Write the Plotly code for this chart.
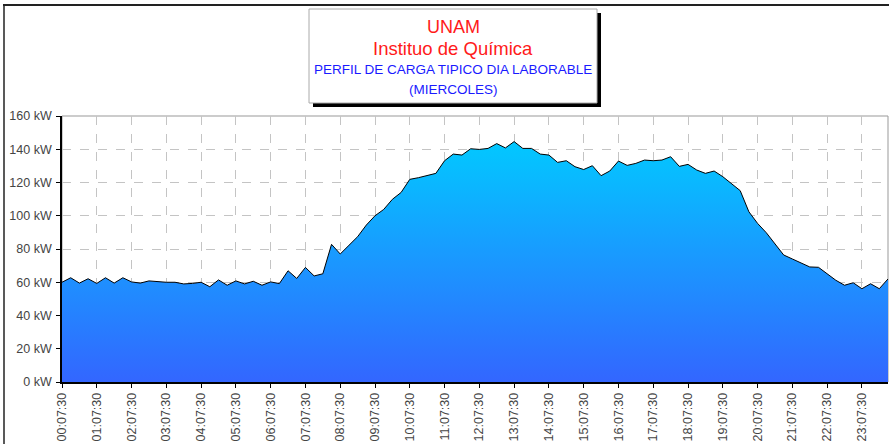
import plotly.graph_objects as go

# ---- data ----
times = [f"{h:02d}:{m:02d}:30" for h in range(24) for m in (7, 22, 37, 52)]
load_kw = [
    60.0, 62.7, 59.5, 62.1, 59.3, 62.7, 59.5, 62.7, 60.2, 59.5, 60.8, 60.2,
    60.0, 60.0, 59.0, 59.3, 60.0, 57.3, 61.4, 58.2, 60.8, 59.0, 60.6, 58.2,
    60.2, 59.2, 66.9, 62.3, 68.9, 63.8, 65.1, 82.8, 77.0, 82.2, 87.4, 94.4,
    100.0, 103.8, 109.9, 114.0, 121.9, 122.9, 124.3, 125.5, 133.1, 137.1, 136.5, 140.3,
    139.9, 140.5, 143.4, 140.8, 144.6, 140.5, 140.5, 137.1, 136.5, 132.1, 133.1, 129.5,
    127.8, 130.1, 124.1, 126.9, 132.9, 130.3, 131.5, 133.5, 133.1, 133.5, 135.5, 129.7,
    130.9, 127.5, 125.5, 126.9, 123.5, 119.5, 115.1, 102.4, 95.4, 89.8, 83.0, 76.4,
    74.0, 71.4, 69.2, 69.0, 65.0, 61.2, 58.2, 59.7, 56.1, 59.1, 56.1, 62.0,
]
tick_labels = times[::4]
y_ticks = [0, 20, 40, 60, 80, 100, 120, 140, 160]
y_tick_text = [f"{v} kW" for v in y_ticks]
title_lines = ["UNAM", "Instituo de Química", "PERFIL DE CARGA TIPICO DIA LABORABLE", "(MIERCOLES)"]

# ---- layout geometry (pixels) ----
W, H = 889, 444
L, R, T, B = 62, 888, 116, 382
pw, ph = R - L, B - T

def px(x):
    return (x - L) / pw

def py(y):
    return (B - y) / ph

fig = go.Figure()
fig.add_trace(go.Scatter(
    x=times, y=load_kw, mode="lines", fill="tozeroy",
    line=dict(color="black", width=1),
    fillgradient=dict(type="vertical", start=0, stop=150,
                      colorscale=[[0, "#3366FF"], [1, "#00CCFF"]]),
    hoverinfo="skip", showlegend=False,
))

shapes = [
    # plot-area border (grey)
    dict(type="rect", xref="paper", yref="paper", x0=0, x1=1, y0=0, y1=1,
         line=dict(color="#999999", width=1), layer="below"),
    # outer chart frame
    dict(type="line", xref="paper", yref="paper", x0=px(3), x1=px(900), y0=py(5), y1=py(5),
         line=dict(color="#222222", width=2)),
    dict(type="line", xref="paper", yref="paper", x0=px(4), x1=px(4), y0=py(5), y1=py(460),
         line=dict(color="#222222", width=1.5)),
    # title box shadow + box
    dict(type="rect", xref="paper", yref="paper", x0=px(313), x1=px(601), y0=py(107), y1=py(13),
         fillcolor="black", line=dict(width=0)),
    dict(type="rect", xref="paper", yref="paper", x0=px(309), x1=px(597), y0=py(103), y1=py(9),
         fillcolor="white", line=dict(color="#aaaaaa", width=1)),
]

annots = []
cx = px(453)
specs = [(27, 18, "#ff1a1a"), (48.5, 18.5, "#ff1a1a"), (69.5, 13.5, "#1a1aff"), (89.5, 13.5, "#1a1aff")]
for text, (yc, size, col) in zip(title_lines, specs):
    annots.append(dict(x=cx, y=py(yc), xref="paper", yref="paper", text=text, showarrow=False,
                       xanchor="center", yanchor="middle",
                       font=dict(family="Liberation Sans, Arial, sans-serif", size=size, color=col)))

fig.update_layout(
    width=W, height=H,
    margin=dict(l=L, r=W - R, t=T, b=H - B, pad=0),
    paper_bgcolor="white", plot_bgcolor="white",
    shapes=shapes, annotations=annots,
    font=dict(family="Liberation Sans, Arial, sans-serif", size=12, color="#333333"),
    xaxis=dict(
        type="category", range=[0, len(times) - 1],
        tickmode="array", tickvals=tick_labels, ticktext=tick_labels,
        tickangle=-90, ticks="outside", ticklen=4, tickcolor="black",
        showline=True, linecolor="black", linewidth=1.5,
        showgrid=True, gridcolor="#c4c4c4", griddash="dash", gridwidth=1,
        zeroline=False, tickfont=dict(size=12.5, color="#444444"),
    ),
    yaxis=dict(
        range=[0, 160], tickmode="array", tickvals=y_ticks, ticktext=y_tick_text,
        ticks="outside", ticklen=4, tickcolor="black", ticklabelstandoff=2,
        showline=True, linecolor="black", linewidth=1.5,
        showgrid=True, gridcolor="#c4c4c4", griddash="dash", gridwidth=1,
        zeroline=False, tickfont=dict(size=12.5, color="#444444"),
    ),
)

fig.write_html(
    "out.html",
    config={"displayModeBar": False},
    post_script="document.body.style.margin='0';document.body.style.overflow='hidden';",
)
